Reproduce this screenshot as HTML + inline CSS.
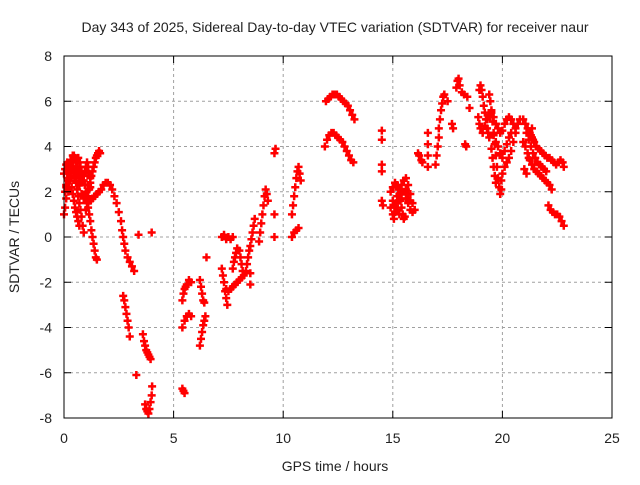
<!DOCTYPE html>
<html><head><meta charset="utf-8"><style>
body{margin:0;background:#fff;}
svg text{font-family:"Liberation Sans",sans-serif;font-size:14px;fill:#222;}
</style></head><body>
<svg id="chart" width="640" height="480" viewBox="0 0 640 480" xmlns="http://www.w3.org/2000/svg">
<rect width="640" height="480" fill="#fff"/>
<text x="335" y="32" text-anchor="middle">Day 343 of 2025, Sidereal Day-to-day VTEC variation (SDTVAR) for receiver naur</text>
<g id="grid"></g>
<g id="points"></g>
<rect x="64" y="56" width="548" height="362" fill="none" stroke="#000" stroke-width="1"/>
<g id="ticks"></g>
<text transform="translate(19,237) rotate(-90)" text-anchor="middle">SDTVAR / TECUs</text>
<text x="335" y="471" text-anchor="middle">GPS time / hours</text>
</svg>
<script>
const xTicks=[0,5,10,15,20,25];
const yTicks=[-8,-6,-4,-2,0,2,4,6,8];
const arcs=[
[[0,1.0],[0.05,1.3],[0.1,1.7],[0.15,2.1],[0.2,2.5],[0.25,2.9],[0.3,3.2],[0.35,3.4],[0.4,3.6],[0.45,3.6],[0.5,3.5],[0.55,3.3],[0.6,3.1],[0.65,2.9],[0.7,2.7],[0.75,2.5],[0.8,2.4],[0.85,2.5],[0.9,2.7],[0.95,2.9],[1.0,3.1],[1.05,3.3],[1.1,3.1],[1.15,2.8],[1.2,2.6]],
[[0,2.8],[0.05,3.0],[0.1,3.2],[0.15,3.3],[0.2,3.1],[0.25,2.8],[0.3,2.5],[0.35,2.2],[0.4,1.9],[0.45,1.6],[0.5,1.3],[0.55,1.1],[0.6,0.9],[0.65,0.7],[0.7,0.5]],
[[0.1,2.3],[0.15,2.6],[0.2,2.9],[0.25,3.2],[0.3,3.4],[0.35,3.3],[0.4,3.1],[0.45,2.9],[0.5,2.6],[0.55,2.4],[0.6,2.1],[0.65,1.8],[0.7,1.5],[0.75,1.2],[0.8,0.9],[0.85,0.5],[0.9,0.2]],
[[0.05,2.0],[0.1,2.2],[0.2,2.0],[0.3,2.7],[0.4,3.0],[0.5,3.0],[0.6,2.8],[0.7,2.3],[0.8,1.9],[0.9,1.7],[1.0,2.0],[1.1,2.3],[1.2,2.2]],
[[0.6,3.4],[0.65,3.5],[0.7,3.3],[0.75,3.1],[0.8,2.9],[0.85,2.7],[0.9,2.5],[0.95,2.3],[1.0,2.0],[1.05,1.6],[1.1,1.3],[1.15,1.0],[1.2,0.7],[1.25,0.3],[1.3,0.0],[1.35,-0.3],[1.4,-0.6],[1.45,-0.9],[1.5,-1.0]],
[[1.0,1.2],[1.05,1.5],[1.1,1.8],[1.15,2.1],[1.2,2.4],[1.25,2.7],[1.3,2.9],[1.35,3.1],[1.4,3.3],[1.45,3.5],[1.5,3.6],[1.55,3.7],[1.6,3.8],[1.65,3.7]],
[[1.1,1.5],[1.2,1.6],[1.3,1.7],[1.4,1.8],[1.5,1.9],[1.6,2.0],[1.7,2.1],[1.8,2.3],[1.9,2.4],[2.0,2.4],[2.1,2.3],[2.2,2.1],[2.3,1.8],[2.4,1.5],[2.5,1.1],[2.6,0.7],[2.65,0.3],[2.7,0.0],[2.75,-0.3],[2.8,-0.6],[2.9,-0.9],[3.0,-1.1],[3.1,-1.3],[3.2,-1.5]],
[[3.4,0.1],[4.0,0.2]],
[[2.7,-2.6],[2.75,-2.8],[2.8,-3.1],[2.85,-3.4],[2.9,-3.7],[2.95,-4.0],[3.0,-4.4]],
[[3.3,-6.1],[3.6,-4.3],[3.65,-4.6],[3.7,-4.8],[3.75,-5.0],[3.8,-5.1],[3.85,-5.2],[3.9,-5.3],[3.95,-5.4]],
[[3.7,-7.4],[3.75,-7.6],[3.8,-7.7],[3.85,-7.8],[3.9,-7.6],[3.95,-7.3],[4.0,-7.0],[4.02,-6.6]],
[[5.4,-6.7],[5.45,-6.8],[5.5,-6.9]],
[[5.4,-4.0],[5.5,-3.7],[5.6,-3.5],[5.7,-3.4],[5.8,-3.5]],
[[5.4,-2.8],[5.45,-2.5],[5.5,-2.3],[5.55,-2.2],[5.6,-2.1],[5.7,-1.9],[5.8,-2.0]],
[[6.2,-4.8],[6.25,-4.5],[6.3,-4.2],[6.35,-3.9],[6.4,-3.7],[6.45,-3.5],[6.2,-1.9],[6.25,-2.2],[6.3,-2.5],[6.35,-2.8],[6.4,-2.9],[6.5,-0.9]],
[[7.2,-1.4],[7.25,-1.7],[7.3,-2.0],[7.35,-2.4],[7.4,-2.7],[7.45,-3.0]],
[[7.2,0.0],[7.3,0.1],[7.4,-0.1],[7.5,0.0],[7.6,-0.1],[7.7,0.0]],
[[7.4,-2.3],[7.5,-2.4],[7.6,-2.3],[7.7,-2.2],[7.8,-2.1],[7.9,-2.0],[8.0,-1.9],[8.1,-1.8]],
[[7.7,-1.4],[7.75,-1.1],[7.8,-0.9],[7.85,-0.7],[7.9,-0.5],[8.0,-0.6],[8.05,-0.9],[8.1,-1.2],[8.15,-1.5],[8.2,-1.7]],
[[8.3,-1.5],[8.35,-1.2],[8.4,-0.9],[8.45,-0.6],[8.5,-0.4],[8.55,-0.1],[8.6,0.2],[8.65,0.5],[8.7,0.8],[8.5,-2.1],[8.5,-1.6]],
[[8.9,-0.2],[8.95,0.2],[9.0,0.6],[9.05,1.0],[9.1,1.4],[9.15,1.8],[9.2,2.1],[9.25,1.9],[9.3,1.6]],
[[9.6,0.0],[9.6,1.0],[9.6,3.7],[9.65,3.9]],
[[10.4,0.0],[10.5,0.2],[10.6,0.3],[10.7,0.4],[10.4,1.0],[10.45,1.4],[10.5,1.8],[10.55,2.2],[10.6,2.6],[10.65,2.9],[10.7,3.1],[10.75,2.8],[10.8,2.5]],
[[11.95,6.0],[12.05,6.1],[12.15,6.2],[12.25,6.3],[12.35,6.3],[12.45,6.3],[12.55,6.2],[12.65,6.1],[12.75,6.0],[12.85,5.9],[12.95,5.8],[13.05,5.6],[13.15,5.4],[13.25,5.2]],
[[11.9,4.0],[12.0,4.3],[12.1,4.5],[12.2,4.6],[12.3,4.6],[12.4,4.5],[12.5,4.4],[12.6,4.3],[12.7,4.2],[12.8,4.0],[12.9,3.8],[13.0,3.6],[13.1,3.4],[13.2,3.3]],
[[14.5,4.7],[14.5,4.3],[14.5,3.2],[14.5,2.9],[14.5,1.6],[14.55,1.4]],
[[14.9,1.3],[15.0,1.0],[15.05,0.8],[15.1,1.1],[15.15,1.5],[15.2,1.8],[15.25,2.1],[15.3,1.9],[15.35,1.6],[15.4,1.3],[15.45,1.0],[15.5,0.8],[15.55,0.9]],
[[14.9,2.0],[15.0,2.2],[15.1,2.4],[15.2,2.3],[15.3,2.1],[15.4,2.3],[15.5,2.5],[15.6,2.6],[15.7,2.3],[15.8,1.9],[15.9,1.5],[16.0,1.2],[15.6,1.7],[15.7,1.5],[15.8,1.2],[15.9,1.1]],
[[15.0,1.6],[15.1,1.4],[15.2,1.2],[15.3,1.0],[15.4,1.7],[15.5,2.0],[15.6,2.1],[15.7,1.9],[15.8,1.6]],
[[16.15,3.7],[16.2,3.6],[16.3,3.4],[16.35,3.3]],
[[16.6,4.6],[16.6,4.1],[16.6,3.6],[16.6,3.1]],
[[16.95,3.2],[17.0,3.6],[17.05,4.0],[17.1,4.4],[17.1,4.8],[17.15,5.2],[17.2,5.6],[17.25,5.9]],
[[17.3,6.2],[17.35,6.3],[17.5,6.0],[17.7,5.0],[17.75,4.8],[17.9,6.6],[17.95,6.9],[18.0,7.0],[18.05,6.7],[18.15,6.4],[18.25,6.3],[18.3,4.1],[18.35,4.0],[18.4,6.2],[18.5,5.7]],
[[18.95,6.5],[19.0,6.7],[19.05,6.5],[19.1,6.2],[19.15,5.8],[19.2,5.5],[19.25,5.2],[19.3,4.8],[19.35,4.6],[19.4,4.4]],
[[18.9,5.3],[18.95,5.0],[19.0,4.8],[19.1,4.6],[19.2,4.9],[19.3,5.2],[19.4,5.4],[19.5,5.5],[19.6,5.3],[19.7,5.0]],
[[19.4,6.3],[19.45,6.0],[19.5,5.6],[19.55,5.1],[19.6,4.6],[19.65,4.1],[19.7,3.6],[19.75,3.1],[19.8,2.6],[19.85,2.2],[19.9,1.9],[19.95,2.1]],
[[19.5,3.9],[19.55,3.5],[19.6,3.1],[19.65,2.7],[19.7,2.4]],
[[19.95,2.5],[20.0,2.8],[20.1,3.1],[20.2,3.3],[20.3,3.5],[20.4,3.8],[20.5,4.2],[20.6,4.6],[20.7,5.0],[20.8,5.2]],
[[19.7,5.0],[19.8,4.8],[19.9,4.6],[20.0,4.7],[20.1,5.0],[20.2,5.2],[20.3,5.3],[20.4,5.2],[20.5,5.0],[20.6,4.8]],
[[19.6,4.5],[19.7,4.2],[19.8,4.0],[19.9,3.7],[20.0,3.5],[20.1,3.8],[20.2,4.1],[20.3,4.4],[20.4,4.6]],
[[20.95,5.2],[21.05,5.0],[21.15,4.8],[21.25,4.6],[21.35,4.4],[21.45,4.2],[21.55,4.0],[21.65,3.9],[21.75,3.8],[21.85,3.7],[21.95,3.6],[22.05,3.5],[22.15,3.5],[22.25,3.4],[22.35,3.3],[22.45,3.2],[22.55,3.3],[22.65,3.4],[22.75,3.3],[22.8,3.1]],
[[20.95,4.2],[21.05,4.0],[21.15,3.7],[21.25,3.4],[21.35,3.2],[21.45,3.0],[21.55,2.9],[21.65,2.8],[21.75,2.7],[21.85,2.6],[21.95,2.5],[22.05,2.4],[22.15,2.3],[22.25,2.1]],
[[21.1,4.6],[21.2,4.3],[21.3,4.0],[21.4,3.7],[21.5,3.5],[21.6,3.3],[21.7,3.2],[21.8,3.1],[21.9,3.0],[22.0,2.9]],
[[21.0,3.0],[21.1,2.8],[21.2,3.5],[21.3,4.5],[21.35,4.8],[21.4,4.3]],
[[22.1,1.4],[22.2,1.2],[22.3,1.1],[22.4,1.0],[22.5,1.0],[22.6,0.9],[22.7,0.7],[22.8,0.5]]
];
const xScale=h=>64+h*(548/25);
const yScale=v=>237-v*(362/16);
const NS="http://www.w3.org/2000/svg";
const grid=document.getElementById('grid'),ticks=document.getElementById('ticks'),pts=document.getElementById('points');
function mk(tag,attrs,parent){const e=document.createElementNS(NS,tag);for(const k in attrs)e.setAttribute(k,attrs[k]);parent.appendChild(e);return e;}
xTicks.forEach(t=>{const x=xScale(t);
 if(t>0&&t<25){const g=mk('line',{x1:x,x2:x,y1:56,y2:418,stroke:'#a0a0a0','stroke-dasharray':'3,3'},grid);
 
 }
 mk('line',{x1:x,x2:x,y1:418,y2:411,stroke:'#000'},ticks);mk('line',{x1:x,x2:x,y1:56,y2:63,stroke:'#000'},ticks);
 const tx=mk('text',{x:x,y:443,'text-anchor':'middle'},ticks);tx.textContent=t;
 
 });
yTicks.forEach(t=>{const y=yScale(t);
 if(t>-8&&t<8){const g=mk('line',{x1:64,x2:612,y1:y,y2:y,stroke:'#a0a0a0','stroke-dasharray':'3,3'},grid);
 
 }
 mk('line',{x1:64,x2:71,y1:y,y2:y,stroke:'#000'},ticks);mk('line',{x1:612,x2:605,y1:y,y2:y,stroke:'#000'},ticks);
 const tx=mk('text',{x:52,y:y+5,'text-anchor':'end'},ticks);tx.textContent=t;
 
 });
arcs.forEach(arc=>arc.forEach(([h,v])=>{const x=xScale(h),y=yScale(v);
 const p=mk('path',{d:`M${x-4} ${y}H${x+4}M${x} ${y-4}V${y+4}`,stroke:'#f00','stroke-width':2.5,fill:'none'},pts);
 
 }));
</script>
</body></html>
